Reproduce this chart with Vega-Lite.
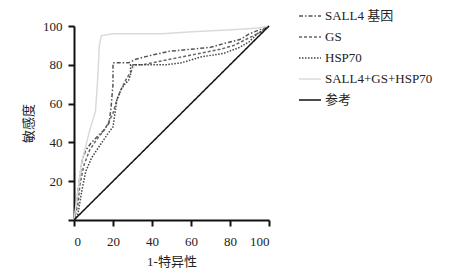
{
  "$schema": "https://vega.github.io/schema/vega-lite/v6.json",
  "autosize": "none",
  "width": 195,
  "height": 194,
  "padding": {"left": 74, "top": 26, "right": 187, "bottom": 52},
  "config": {
    "view": {"stroke": null},
    "font": "Liberation Serif, Noto Sans CJK SC",
    "axis": {
      "grid": false,
      "domainColor": "#111",
      "domainWidth": 2,
      "tickColor": "#111",
      "tickWidth": 2,
      "tickSize": 6,
      "labelFont": "Liberation Serif",
      "labelFontSize": 13,
      "labelColor": "#222",
      "titleFont": "Liberation Serif, Noto Sans CJK SC",
      "titleFontSize": 13,
      "titleFontWeight": "normal",
      "titleColor": "#222"
    }
  },
  "data": {
    "values": [
      {"series": "SALL4 基因", "x": 0, "y": 0},
      {"series": "SALL4 基因", "x": 1, "y": 5},
      {"series": "SALL4 基因", "x": 2, "y": 15},
      {"series": "SALL4 基因", "x": 3, "y": 22},
      {"series": "SALL4 基因", "x": 4, "y": 30},
      {"series": "SALL4 基因", "x": 6, "y": 36},
      {"series": "SALL4 基因", "x": 9, "y": 40},
      {"series": "SALL4 基因", "x": 12, "y": 43},
      {"series": "SALL4 基因", "x": 15, "y": 46},
      {"series": "SALL4 基因", "x": 18, "y": 50},
      {"series": "SALL4 基因", "x": 19, "y": 58},
      {"series": "SALL4 基因", "x": 20, "y": 70},
      {"series": "SALL4 基因", "x": 20, "y": 81},
      {"series": "SALL4 基因", "x": 25, "y": 81},
      {"series": "SALL4 基因", "x": 28, "y": 81},
      {"series": "SALL4 基因", "x": 32, "y": 83},
      {"series": "SALL4 基因", "x": 40, "y": 85},
      {"series": "SALL4 基因", "x": 49, "y": 87},
      {"series": "SALL4 基因", "x": 60, "y": 88},
      {"series": "SALL4 基因", "x": 70, "y": 89},
      {"series": "SALL4 基因", "x": 77, "y": 91},
      {"series": "SALL4 基因", "x": 85, "y": 93},
      {"series": "SALL4 基因", "x": 90, "y": 96},
      {"series": "SALL4 基因", "x": 95, "y": 98},
      {"series": "SALL4 基因", "x": 100, "y": 100},
      {"series": "GS", "x": 0, "y": 0},
      {"series": "GS", "x": 2, "y": 8},
      {"series": "GS", "x": 3, "y": 18},
      {"series": "GS", "x": 5, "y": 28},
      {"series": "GS", "x": 8, "y": 36},
      {"series": "GS", "x": 12, "y": 42},
      {"series": "GS", "x": 16, "y": 47},
      {"series": "GS", "x": 20, "y": 55},
      {"series": "GS", "x": 22, "y": 62},
      {"series": "GS", "x": 24, "y": 67},
      {"series": "GS", "x": 27, "y": 73},
      {"series": "GS", "x": 29, "y": 76},
      {"series": "GS", "x": 30, "y": 78},
      {"series": "GS", "x": 30, "y": 80},
      {"series": "GS", "x": 35, "y": 80},
      {"series": "GS", "x": 45, "y": 82},
      {"series": "GS", "x": 55, "y": 84},
      {"series": "GS", "x": 65, "y": 86},
      {"series": "GS", "x": 75, "y": 88},
      {"series": "GS", "x": 82, "y": 90},
      {"series": "GS", "x": 88, "y": 93},
      {"series": "GS", "x": 92, "y": 95},
      {"series": "GS", "x": 96, "y": 97},
      {"series": "GS", "x": 100, "y": 100},
      {"series": "HSP70", "x": 0, "y": 0},
      {"series": "HSP70", "x": 2, "y": 3},
      {"series": "HSP70", "x": 4, "y": 15},
      {"series": "HSP70", "x": 6, "y": 25},
      {"series": "HSP70", "x": 9, "y": 32},
      {"series": "HSP70", "x": 13, "y": 38},
      {"series": "HSP70", "x": 17, "y": 44},
      {"series": "HSP70", "x": 20, "y": 48},
      {"series": "HSP70", "x": 21, "y": 55},
      {"series": "HSP70", "x": 22, "y": 62},
      {"series": "HSP70", "x": 24, "y": 67},
      {"series": "HSP70", "x": 26, "y": 70},
      {"series": "HSP70", "x": 28, "y": 72},
      {"series": "HSP70", "x": 29, "y": 75},
      {"series": "HSP70", "x": 29, "y": 80},
      {"series": "HSP70", "x": 35, "y": 80},
      {"series": "HSP70", "x": 47, "y": 80},
      {"series": "HSP70", "x": 55, "y": 81},
      {"series": "HSP70", "x": 65, "y": 84},
      {"series": "HSP70", "x": 77, "y": 86},
      {"series": "HSP70", "x": 85, "y": 89},
      {"series": "HSP70", "x": 90, "y": 92},
      {"series": "HSP70", "x": 94, "y": 96},
      {"series": "HSP70", "x": 97, "y": 98},
      {"series": "HSP70", "x": 100, "y": 100},
      {"series": "SALL4+GS+HSP70", "x": 0, "y": 0},
      {"series": "SALL4+GS+HSP70", "x": 2, "y": 15},
      {"series": "SALL4+GS+HSP70", "x": 4, "y": 30},
      {"series": "SALL4+GS+HSP70", "x": 8, "y": 46},
      {"series": "SALL4+GS+HSP70", "x": 11, "y": 56},
      {"series": "SALL4+GS+HSP70", "x": 12, "y": 70},
      {"series": "SALL4+GS+HSP70", "x": 13, "y": 90},
      {"series": "SALL4+GS+HSP70", "x": 14, "y": 95},
      {"series": "SALL4+GS+HSP70", "x": 20, "y": 96},
      {"series": "SALL4+GS+HSP70", "x": 45, "y": 96},
      {"series": "SALL4+GS+HSP70", "x": 60, "y": 97},
      {"series": "SALL4+GS+HSP70", "x": 80, "y": 98},
      {"series": "SALL4+GS+HSP70", "x": 95, "y": 99},
      {"series": "SALL4+GS+HSP70", "x": 100, "y": 100},
      {"series": "参考", "x": 0, "y": 0},
      {"series": "参考", "x": 100, "y": 100}
    ]
  },
  "mark": {"type": "line", "clip": false},
  "encoding": {
    "x": {
      "field": "x", "type": "quantitative",
      "scale": {"domain": [0, 100], "nice": false},
      "axis": {"values": [0, 20, 40, 60, 80, 100], "title": "1-特异性", "labelFont": "Liberation Serif", "labelPadding": 9, "titlePadding": 7}
    },
    "y": {
      "field": "y", "type": "quantitative",
      "scale": {"domain": [0, 100], "nice": false},
      "axis": {"values": [0, 20, 40, 60, 80, 100], "labelExpr": "datum.value == 0 ? '' : datum.label", "labelFont": "Liberation Serif", "title": "敏感度", "labelPadding": 6, "titlePadding": 7}
    },
    "order": {"field": "x", "type": "quantitative"},
    "color": {
      "field": "series", "type": "nominal",
      "scale": {
        "domain": ["SALL4 基因", "GS", "HSP70", "SALL4+GS+HSP70", "参考"],
        "range": ["#555555", "#666666", "#444444", "#dadada", "#111111"]
      },
      "legend": {
        "title": null,
        "orient": "none",
        "legendX": 224,
        "legendY": -22,
        "symbolType": "stroke",
        "symbolSize": 484,
        "rowPadding": 2,
        "labelFont": "Liberation Serif, Noto Sans CJK SC",
        "labelFontSize": 13,
        "labelColor": "#222",
        "padding": 0,
        "labelOffset": 3
      }
    },
    "strokeDash": {
      "field": "series", "type": "nominal",
      "scale": {
        "domain": ["SALL4 基因", "GS", "HSP70", "SALL4+GS+HSP70", "参考"],
        "range": [[4, 2, 1.5, 2], [3, 2], [1.5, 1.5], [1, 0], [1, 0]]
      },
      "legend": {
        "title": null,
        "orient": "none",
        "legendX": 224,
        "legendY": -22,
        "symbolType": "stroke",
        "symbolSize": 484,
        "rowPadding": 2,
        "labelFont": "Liberation Serif, Noto Sans CJK SC",
        "labelFontSize": 13,
        "labelColor": "#222",
        "padding": 0,
        "labelOffset": 3
      }
    },
    "strokeWidth": {
      "field": "series", "type": "nominal",
      "scale": {
        "domain": ["SALL4 基因", "GS", "HSP70", "SALL4+GS+HSP70", "参考"],
        "range": [1.5, 1.5, 1.8, 2.5, 2]
      },
      "legend": {
        "title": null,
        "orient": "none",
        "legendX": 224,
        "legendY": -22,
        "symbolType": "stroke",
        "symbolSize": 484,
        "rowPadding": 2,
        "labelFont": "Liberation Serif, Noto Sans CJK SC",
        "labelFontSize": 13,
        "labelColor": "#222",
        "padding": 0,
        "labelOffset": 3
      }
    }
  }
}
